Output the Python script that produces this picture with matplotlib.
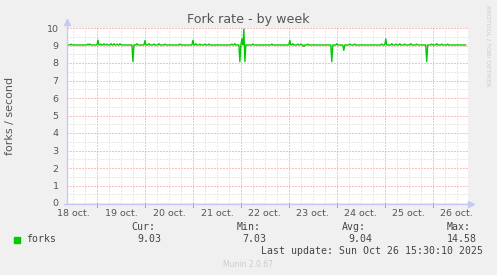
import matplotlib
matplotlib.use("Agg")
import matplotlib.pyplot as plt
import numpy as np
from matplotlib.lines import Line2D

# hours counted from 18 oct. 00:00, samples every 30 minutes
start_hour = 9.0
end_hour = 208.5
baseline = 9.03
event_hours = [11.0, 19.5, 20.5, 24.5, 26.0, 27.5, 29.0, 31.0, 32.5, 34.0, 35.5,
               42.0, 44.0, 48.0, 50.0, 52.5, 55.0, 58.0, 65.5, 72.0, 73.5, 75.5,
               78.0, 80.0, 91.5, 93.0, 95.5, 96.5, 97.5, 98.0, 102.0, 111.5,
               120.5, 122.0, 124.5, 126.0, 127.5, 129.5, 141.5, 144.0, 147.5,
               150.5, 153.0, 166.5, 168.5, 171.5, 173.5, 175.5, 178.0, 181.0,
               184.0, 189.0, 191.5, 194.0, 196.5, 199.5]
event_values = [9.08, 9.08, 9.08, 9.31, 9.08, 9.10, 9.08, 9.10, 9.10, 9.08, 9.10,
                8.08, 9.10, 9.28, 9.10, 9.08, 9.10, 9.08, 9.08, 9.30, 9.10, 9.08,
                9.08, 9.08, 9.08, 9.10, 8.08, 9.37, 9.94, 8.08, 9.08, 9.08,
                9.30, 9.10, 9.08, 9.08, 8.95, 9.08, 8.08, 9.10, 8.72,
                9.08, 9.08, 9.08, 9.37, 9.10, 9.08, 9.10, 9.08, 9.10,
                9.08, 8.08, 9.08, 9.10, 9.08, 9.08]

day_labels = ["18 oct.", "19 oct.", "20 oct.", "21 oct.", "22 oct.",
              "23 oct.", "24 oct.", "25 oct.", "26 oct."]
legend_cols = ["Cur:", "Min:", "Avg:", "Max:"]
legend_vals = ["9.03", "7.03", "9.04", "14.58"]

hours = np.arange(start_hour, end_hour + 0.25, 0.5)
rate = np.full(len(hours), baseline)
for h, v in zip(event_hours, event_values):
    rate[int(round((h - start_hour) / 0.5))] = v

W, H = 497, 275
fig = plt.figure(figsize=(W / 100, H / 100), dpi=100, facecolor="#F0F0F0")
x0, x1, y0, y1 = 67, 467.5, 28, 203
ax = fig.add_axes([x0 / W, 1 - y1 / H, (x1 - x0) / W, (y1 - y0) / H])
ax.set_facecolor("white")
ax.set_xlim(9.0, 209.4)
ax.set_ylim(0, 10)
for s in ax.spines.values():
    s.set_visible(False)

# grid
grey = dict(color="#D2D2D2", lw=0.72, ls=(0, (1, 2)), zorder=1)
red = dict(color="#EE8888", lw=0.72, ls=(0, (1, 2)), zorder=1)
for y in np.arange(0.5, 10, 1.0):
    ax.axhline(y, **grey)
for y in range(1, 11):
    ax.axhline(y, **red)
for h in np.arange(12, 209, 6):
    if h % 24:
        ax.axvline(h, **grey)
for h in range(24, 209, 24):
    ax.axvline(h, **red)
    ax.plot([h, h], [0, -0.2], color="#F08080", lw=0.72, ls="-", clip_on=False)

ax.plot(hours, rate, color="#00CC00", lw=1.0, zorder=3)

ax.set_yticks(range(0, 11))
ax.set_yticklabels([str(i) for i in range(0, 11)])
ax.set_xticks([12 + 24 * i for i in range(len(day_labels))])
ax.set_xticklabels(day_labels)
ax.tick_params(length=0, labelsize=6.8, labelcolor="#555555")
ax.tick_params(axis="y", pad=6)
ax.tick_params(axis="x", pad=4)

# axis lines with arrows (pixel coords)
def px(x, y):
    return x / W, 1 - y / H

axis_col = "#C8C8F8"
fig.add_artist(Line2D(*zip(px(66.5, 203.5), px(66.5, 24)), color=axis_col, lw=1))
fig.add_artist(Line2D(*zip(px(64, 203.5), px(470, 203.5)), color=axis_col, lw=1))
fig.add_artist(Line2D([px(66.5, 22)[0]], [px(66.5, 22)[1]], marker="^", ms=5,
                      color=axis_col, lw=0))
fig.add_artist(Line2D([px(471, 203.5)[0]], [px(471, 203.5)[1]], marker=">", ms=5,
                      color=axis_col, lw=0))

fig.text(*px(248, 19), "Fork rate - by week", ha="center", va="center",
         fontsize=9.1, color="#555555")
fig.text(*px(10, 116), "forks / second", rotation=90, ha="center", va="center",
         fontsize=8, color="#555555")
fig.text(*px(487.5, 5), "RRDTOOL / TOBI OETIKER", rotation=270, ha="center",
         va="top", fontsize=4.6, color="#CCCCCC")

mono = "DejaVu Sans Mono"
fig.add_artist(plt.Rectangle(px(14, 242.5), 6 / W, 6 / H, color="#00CC00"))
fig.text(*px(26.5, 239.5), "forks", family=mono, fontsize=7.15, color="#444444",
         va="center")
for lx, vx, lab, val in zip([131, 236.5, 341.5, 447], [137, 242.7, 348.3, 447],
                            legend_cols, legend_vals):
    fig.text(*px(lx, 227.5), lab, family=mono, fontsize=7.15, color="#444444",
             va="center")
    fig.text(*px(vx, 239.5), val, family=mono, fontsize=7.15, color="#444444",
             va="center")
fig.text(*px(261, 251.5), "Last update: Sun Oct 26 15:30:10 2025", family=mono,
         fontsize=7.15, color="#444444", va="center")
fig.text(*px(248, 264.5), "Munin 2.0.67", ha="center", va="center", fontsize=5.5,
         color="#CCCCCC")

fig.savefig("out.png", dpi=100, facecolor=fig.get_facecolor())
